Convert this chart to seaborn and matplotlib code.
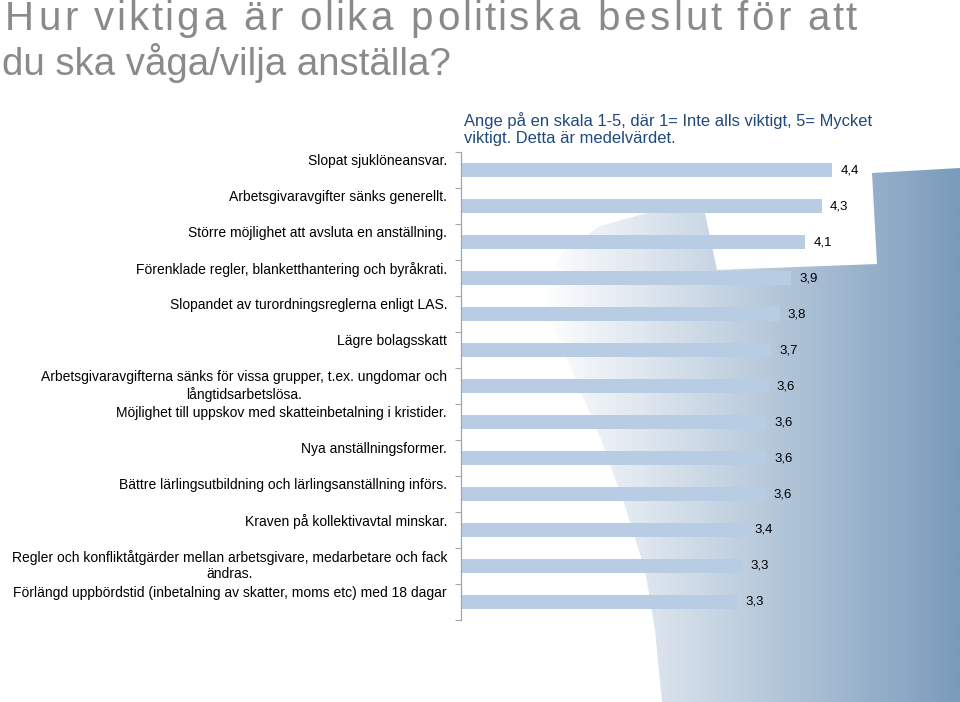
import numpy as np
import pandas as pd
import matplotlib
matplotlib.use("Agg")
import matplotlib.pyplot as plt
import matplotlib.transforms as mtransforms
from matplotlib.patches import Polygon
import seaborn as sns

# ---------------- data ----------------
categories = [
    "Slopat sjuklöneansvar.",
    "Arbetsgivaravgifter sänks generellt.",
    "Större möjlighet att avsluta en anställning.",
    "Förenklade regler, blanketthantering och byråkrati.",
    "Slopandet av turordningsreglerna enligt LAS.",
    "Lägre bolagsskatt",
    "Arbetsgivaravgifterna sänks för vissa grupper, t.ex. ungdomar och\nlångtidsarbetslösa.",
    "Möjlighet till uppskov med skatteinbetalning i kristider.",
    "Nya anställningsformer.",
    "Bättre lärlingsutbildning och lärlingsanställning införs.",
    "Kraven på kollektivavtal minskar.",
    "Regler och konfliktåtgärder mellan arbetsgivare, medarbetare och fack\nändras.",
    "Förlängd uppbördstid (inbetalning av skatter, moms etc) med 18 dagar",
]
values = [4.39, 4.27, 4.07, 3.91, 3.77, 3.67, 3.64, 3.61, 3.61, 3.60, 3.38, 3.33, 3.27]
value_labels = ["4,4", "4,3", "4,1", "3,9", "3,8", "3,7", "3,6", "3,6", "3,6", "3,6", "3,4", "3,3", "3,3"]

title_lines = ["Hur viktiga är olika politiska beslut för att", "du ska våga/vilja anställa?"]
subtitle = "Ange på en skala 1-5, där 1= Inte alls viktigt, 5= Mycket\nviktigt. Detta är medelvärdet."

# ---------------- style ----------------
sns.set_style("white")
plt.rcParams["font.family"] = ["Liberation Sans", "DejaVu Sans"]

W, H = 960, 702
fig = plt.figure(figsize=(W / 100, H / 100), dpi=100)
fig.patch.set_facecolor("white")

# ---------------- decorative background ----------------
bg = fig.add_axes([0, 0, 1, 1])
bg.set_xlim(0, W)
bg.set_ylim(H, 0)
bg.axis("off")
bg.set_zorder(0)
x0, x1 = 540, 960
c0 = np.array([255, 255, 255]) / 255
c1 = np.array([122, 155, 188]) / 255
t = np.linspace(0, 1, 256)
grad = (c0[None, :] * (1 - t[:, None]) + c1[None, :] * t[:, None])[None, :, :]
im = bg.imshow(grad, extent=(x0, x1, H, 0), aspect="auto", interpolation="bilinear")
shape = [(960, 168), (872, 173), (877, 264), (717, 270), (705, 213), (647, 213),
         (600, 226), (565, 250), (545, 285), (550, 320), (573, 373), (600, 437),
         (623, 500), (645, 570), (655, 630), (662, 702), (960, 702)]
poly = Polygon(shape, closed=True, transform=bg.transData, facecolor="none", edgecolor="none")
bg.add_patch(poly)
im.set_clip_path(poly)

# ---------------- bar chart ----------------
ax_left, ax_right, ax_top, ax_bottom = 461, 960, 152, 620
ax = fig.add_axes([ax_left / W, 1 - ax_bottom / H, (ax_right - ax_left) / W, (ax_bottom - ax_top) / H])
ax.set_zorder(1)
ax.patch.set_alpha(0)

df = pd.DataFrame({"kategori": categories, "medel": values})
sns.barplot(data=df, y="kategori", x="medel", orient="h", color="#b8cce4",
            saturation=1, width=0.38, ax=ax, edgecolor="none")

ppu = 84.5
ax.set_xlim(0, (ax_right - ax_left) / ppu)
ax.set_ylim(len(categories) - 0.5, -0.5)
ax.set_xlabel("")
ax.set_ylabel("")
ax.set_xticks([])
ax.set_yticks(np.arange(-0.5, len(categories), 1.0))
ax.set_yticklabels([])
ax.tick_params(axis="y", direction="out", length=4, width=0.8, color="#a6a6a6", left=True)
for s in ["top", "right", "bottom"]:
    ax.spines[s].set_visible(False)
ax.spines["left"].set_color("#a6a6a6")
ax.spines["left"].set_linewidth(0.9)

# category labels (top-aligned within band)
lab_tr = mtransforms.blended_transform_factory(ax.transAxes, ax.transData) + \
    mtransforms.ScaledTranslation(-14 / 100, -2.0 / 100, fig.dpi_scale_trans)
for i, c in enumerate(categories):
    ax.text(0, i - 0.5, c, transform=lab_tr, ha="right", va="top",
            multialignment="center", fontsize=10, color="#000000", linespacing=1.22)

# value labels
for i, (v, lbl) in enumerate(zip(values, value_labels)):
    ax.annotate(lbl, xy=(v, i), xytext=(6, 0), textcoords="offset points",
                ha="left", va="center", fontsize=9.5, color="#000000")

# ---------------- titles ----------------
renderer = fig.canvas.get_renderer()
title_color = "#8a8a8a"
# first line is wide (fills x 2..858 px): place characters one by one
line1 = title_lines[0]
kw1 = dict(fontsize=29, color=title_color, va="baseline")
probe = fig.text(0, 0.5, "", ha="left", **kw1)
def _right_edge(s):
    probe.set_text(s)
    return probe.get_window_extent(renderer).x1
full_w = _right_edge(line1)
stretch = (858 - 2) / full_w
for k, ch in enumerate(line1):
    if ch == " ":
        continue
    r = _right_edge(line1[: k + 1])
    probe.set_text(ch)
    cw = probe.get_window_extent(renderer).width
    center = r - cw / 2
    fig.text((2 + center * stretch) / W, 1 - 30 / H, ch, ha="center", **kw1)
probe.remove()
fig.text(2 / W, 1 - 75 / H, title_lines[1], ha="left", va="baseline",
         fontsize=27.6, color=title_color)

fig.text(464 / W, 1 - 143 / H, subtitle, ha="left", va="baseline", fontsize=11.9,
         color="#1f497d", linespacing=1.15)

fig.savefig("out.png", dpi=100, facecolor="white")
